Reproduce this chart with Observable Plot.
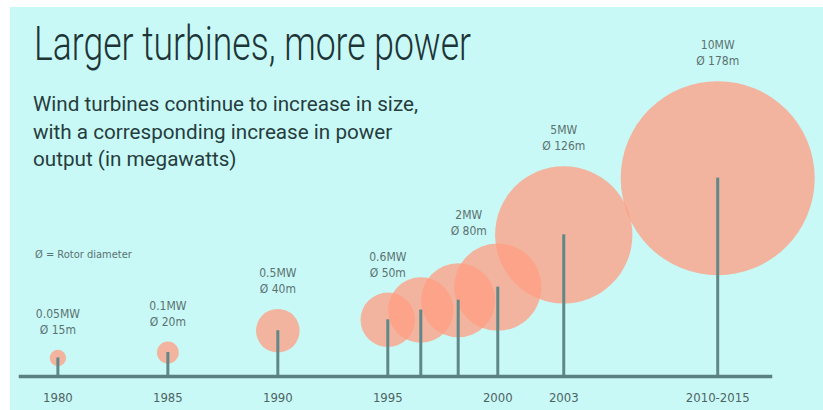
<!DOCTYPE html>
<html>
<head>
<meta charset="utf-8">
<script src="https://cdn.jsdelivr.net/npm/d3@7"></script>
<script src="https://cdn.jsdelivr.net/npm/@observablehq/plot@0.6"></script>
<style>
  html, body { margin: 0; padding: 0; background: #ffffff; }
  #wrap { position: relative; width: 823px; height: 410px; overflow: hidden; background: #ffffff; }
  #panel { position: absolute; left: 10px; top: 7px; right: 0; bottom: 0; background: #c9f9f6; }
  #chart { position: absolute; left: 0; top: 0; }
  .t { position: absolute; white-space: nowrap; transform-origin: 0 0; }
  #title { left: 34px; top: 19px; font-family: Roboto, sans-serif; font-weight: 300; font-size: 49px; line-height: 49px; color: #1d3536; }
  #subtitle { left: 33px; top: 91px; font-family: Roboto, sans-serif; font-weight: 400; font-size: 21px; line-height: 27.5px; color: #263d3e; }
  #note { left: 35px; top: 248px; font-family: "Liberation Sans Narrow", "DejaVu Sans Condensed", sans-serif; font-size: 11px; line-height: 14px; color: #5a7272; }
</style>
</head>
<body>
<div id="wrap">
  <div id="panel"></div>
  <div id="chart"></div>
  <div id="title" class="t">Larger turbines, more power</div>
  <div id="subtitle" class="t"><span id="sub1">Wind turbines continue to increase in size,</span><br>with a corresponding increase in power<br>output (in megawatts)</div>
  <div id="note" class="t">Ø = Rotor diameter</div>
</div>
<script>
// ---- data ----
const years       = [1980, 1985, 1990, 1995, 1996.5, 1998.2, 2000, 2003, 2010];
const diameters   = [15, 20, 40, 50, 60, 68, 80, 126, 178];       // rotor diameter, m
const hubHeights  = [17, 22, 42, 52, 61, 70, 82, 130, 182];       // hub height (as drawn)
const powerLabels = ["0.05MW", "0.1MW", "0.5MW", "0.6MW", null, null, "2MW", "5MW", "10MW"];
const tickYears   = [1980, 1985, 1990, 1995, 2000, 2003, 2010];
const tickLabels  = ["1980", "1985", "1990", "1995", "2000", "2003", "2010-2015"];

const rows = years.map((year, i) => ({
  year, diameter: diameters[i], hub: hubHeights[i], power: powerLabels[i]
}));

const labelFont = '"Liberation Sans Narrow", "DejaVu Sans Condensed", sans-serif';
const labelText = d => `${d.power}\nØ ${d.diameter}m`;
const circleTop = d => d.hub + d.diameter / 2;

const chart = Plot.plot({
  width: 823,
  height: 410,
  marginLeft: 20,
  marginRight: 53,
  marginTop: 0,
  marginBottom: 34,
  style: { background: "transparent", overflow: "visible" },
  x: { domain: [1978.3, 2012.4], axis: null },
  y: { domain: [0, 345], axis: null },
  r: { type: "linear", domain: [0, 178], range: [0, 97] },
  marks: [
    Plot.dot(rows, { x: "year", y: "hub", r: "diameter", fill: "#ff9e82", fillOpacity: 0.76, stroke: "none" }),
    Plot.ruleX(rows, { x: "year", y1: 0, y2: "hub", stroke: "#608888", strokeWidth: 3 }),
    Plot.frame({ anchor: "bottom", stroke: "#5b8081", strokeWidth: 3.5 }),
    Plot.axisX({
      ticks: tickYears,
      tickFormat: d => tickLabels[tickYears.indexOf(d)],
      tickSize: 0,
      tickPadding: 16,
      label: null,
      fontSize: 13,
      fontFamily: labelFont,
      fill: "#4e6464"
    }),
    Plot.text(rows.filter(d => d.power && d.year !== 2000), {
      x: "year", y: circleTop, text: labelText,
      dy: -29, lineAnchor: "middle", lineHeight: 1.35,
      fontSize: 12, fontFamily: labelFont, fill: "#5a7272"
    }),
    Plot.text(rows.filter(d => d.year === 2000), {
      x: "year", y: circleTop, text: labelText,
      dx: -29, dy: -22, lineAnchor: "middle", lineHeight: 1.35,
      fontSize: 12, fontFamily: labelFont, fill: "#5a7272"
    })
  ]
});
document.getElementById("chart").appendChild(chart);

// condense the heading texts to the widths they have in the reference
function fit(el, measureEl, target) {
  const w = measureEl.getBoundingClientRect().width;
  if (w > 0) el.style.transform = `scaleX(${target / w})`;
}
fit(document.getElementById("title"), document.getElementById("title"), 437);
fit(document.getElementById("subtitle"), document.getElementById("sub1"), 385);
</script>
</body>
</html>
